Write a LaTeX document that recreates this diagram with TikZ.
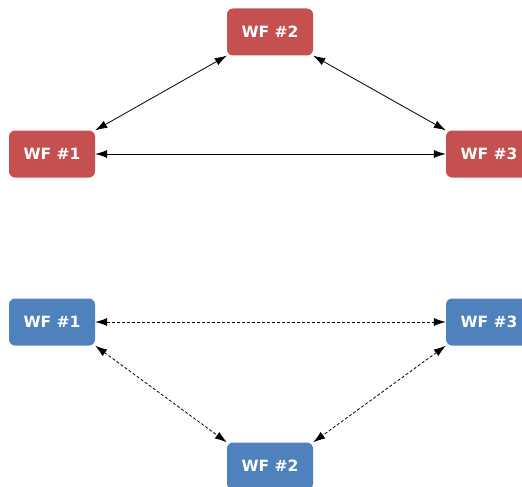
\documentclass[tikz,border=0pt]{standalone}
\usepackage{fontspec}
\setsansfont{DejaVu Sans}
\usetikzlibrary{arrows.meta}
\definecolor{wfred}{RGB}{196,80,79}
\definecolor{wfblue}{RGB}{79,129,189}

\begin{document}
\begin{tikzpicture}[x=1pt, y=-1pt,
    wf/.style={rounded corners=6pt, minimum width=86pt, minimum height=47pt,
        text=white, font=\sffamily\bfseries\fontsize{15.5}{18}\selectfont},
    link/.style={{Latex[length=12pt,width=8pt]}-{Latex[length=12pt,width=8pt]}, line width=0.8pt}]
    \useasboundingbox (0,0) rectangle (522,487);
    % peer to peer
    \node[wf, fill=wfred] (r2) at (270,32) {WF \#2};
    \node[wf, fill=wfred] (r1) at (52,154) {WF \#1};
    \node[wf, fill=wfred] (r3) at (489,154) {WF \#3};
    \draw[link] (r2.south west) -- (r1.north east);
    \draw[link] (r2.south east) -- (r3.north west);
    \draw[link] (r1) -- (r3);
    % dashed version
    \node[wf, fill=wfblue] (b1) at (52,322) {WF \#1};
    \node[wf, fill=wfblue] (b3) at (489,322) {WF \#3};
    \node[wf, fill=wfblue] (b2) at (270,466) {WF \#2};
    \draw[link, dash pattern=on 3pt off 2pt] (b1) -- (b3);
    \draw[link, dash pattern=on 3pt off 2pt] (b1.south east) -- (b2.north west);
    \draw[link, dash pattern=on 3pt off 2pt] (b3.south west) -- (b2.north east);
\end{tikzpicture}
\end{document}
